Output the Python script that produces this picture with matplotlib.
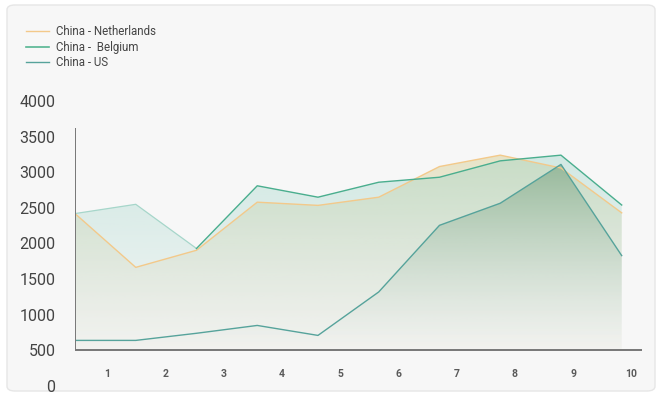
import numpy as np
import matplotlib.pyplot as plt
from matplotlib.patches import FancyBboxPatch
from matplotlib.colors import to_rgb

plt.rcParams['font.family'] = ['Roboto', 'DejaVu Sans']

points = list(range(10))
tick_labels = ['1', '2', '3', '4', '5', '6', '7', '8', '9', '10']
y_ticks = [0, 500, 1000, 1500, 2000, 2500, 3000, 3500, 4000]

netherlands = [2420, 1665, 1905, 2580, 2535, 2650, 3080, 3240, 3060, 2430]
belgium = [2420, 2550, 1930, 2810, 2650, 2860, 2930, 3160, 3240, 2540]
us = [640, 640, 740, 850, 710, 1320, 2255, 2565, 3110, 1830]

base = 500

W, H = 662, 396
fig = plt.figure(figsize=(W / 100, H / 100), dpi=100)
fig.patch.set_facecolor('white')

# card background
card = FancyBboxPatch((7 / W, 5 / H), 648 / W, 386 / H,
                      boxstyle='round,pad=0,rounding_size=0.012',
                      transform=fig.transFigure, fc='#f7f7f7', ec='#e6e6e6',
                      lw=1, zorder=-10)
fig.add_artist(card)

ax = fig.add_axes([75 / W, 10 / H, 571 / W, 285 / H])
ax.set_facecolor('none')
ax.set_zorder(1)
for s in ax.spines.values():
    s.set_visible(False)


def gradient_fill(xs, ys, color, a_top, a_bottom, z, low=None):
    poly = ax.fill_between(xs, base, ys, color='none', lw=0)
    rgb = np.array(to_rgb(color))
    low = rgb if low is None else np.array(to_rgb(low))
    n = 256
    t = np.linspace(0, 1, n)[:, None]
    img = np.zeros((n, 1, 4))
    img[:, :, :3] = (low * (1 - t) + rgb * t)[:, None, :]
    img[:, :, 3] = a_bottom + (a_top - a_bottom) * t
    im = ax.imshow(img, aspect='auto', origin='lower',
                   extent=(min(xs), max(xs), base, max(ys)), zorder=z)
    path = poly.get_paths()[0]
    im.set_clip_path(path, transform=ax.transData)


gradient_fill(points, netherlands, '#d3cc8c', 0.45, 0.10, 1, low='#f2dcc8')
gradient_fill(points, belgium, '#9ad3c6', 0.40, 0.04, 2)
gradient_fill(points, us, '#6f9c78', 0.55, 0.0, 3, low='#c8dcd4')

ax.plot(points, netherlands, color='#f3c98a', lw=1.0, zorder=5,
        label='China - Netherlands')
ax.plot(points[:3], belgium[:3], color='#a6d6ca', lw=0.9, zorder=5)
ax.plot(points[2:], belgium[2:], color='#4aae8e', lw=1.0, zorder=5)
ax.plot([], [], color='#55b592', lw=1.2, label='China -  Belgium')
ax.plot(points, us, color='#56a39b', lw=1.0, zorder=5, label='China - US')

# axis lines
ax.plot([0, 0], [base, 3620], color='#777777', lw=1.4, zorder=6,
        solid_capstyle='butt')
ax.plot([0, 9.34], [base, base], color='#777777', lw=1.4, zorder=6,
        solid_capstyle='butt')

ax.set_xlim(0, 9.4)
ax.set_ylim(0, 4000)
ax.set_yticks(y_ticks)
ax.set_yticklabels([str(v) for v in y_ticks])
ax.tick_params(axis='y', length=0, pad=14, labelsize=11.5, labelcolor='#444444')
ax.set_xticks([])

for i, lab in enumerate(tick_labels):
    ax.text(0.53 + 0.959 * i, 165, lab, ha='center', va='center',
            fontsize=7.5, fontweight='bold', color='#5a5a5a')

leg = fig.legend(loc='upper left', bbox_to_anchor=(16 / W, 1 - 15 / H),
                 frameon=False, fontsize=8.3, handlelength=2.0,
                 labelspacing=0.2, handletextpad=0.6, labelcolor='#444444')

fig.savefig('out.png', dpi=100)
